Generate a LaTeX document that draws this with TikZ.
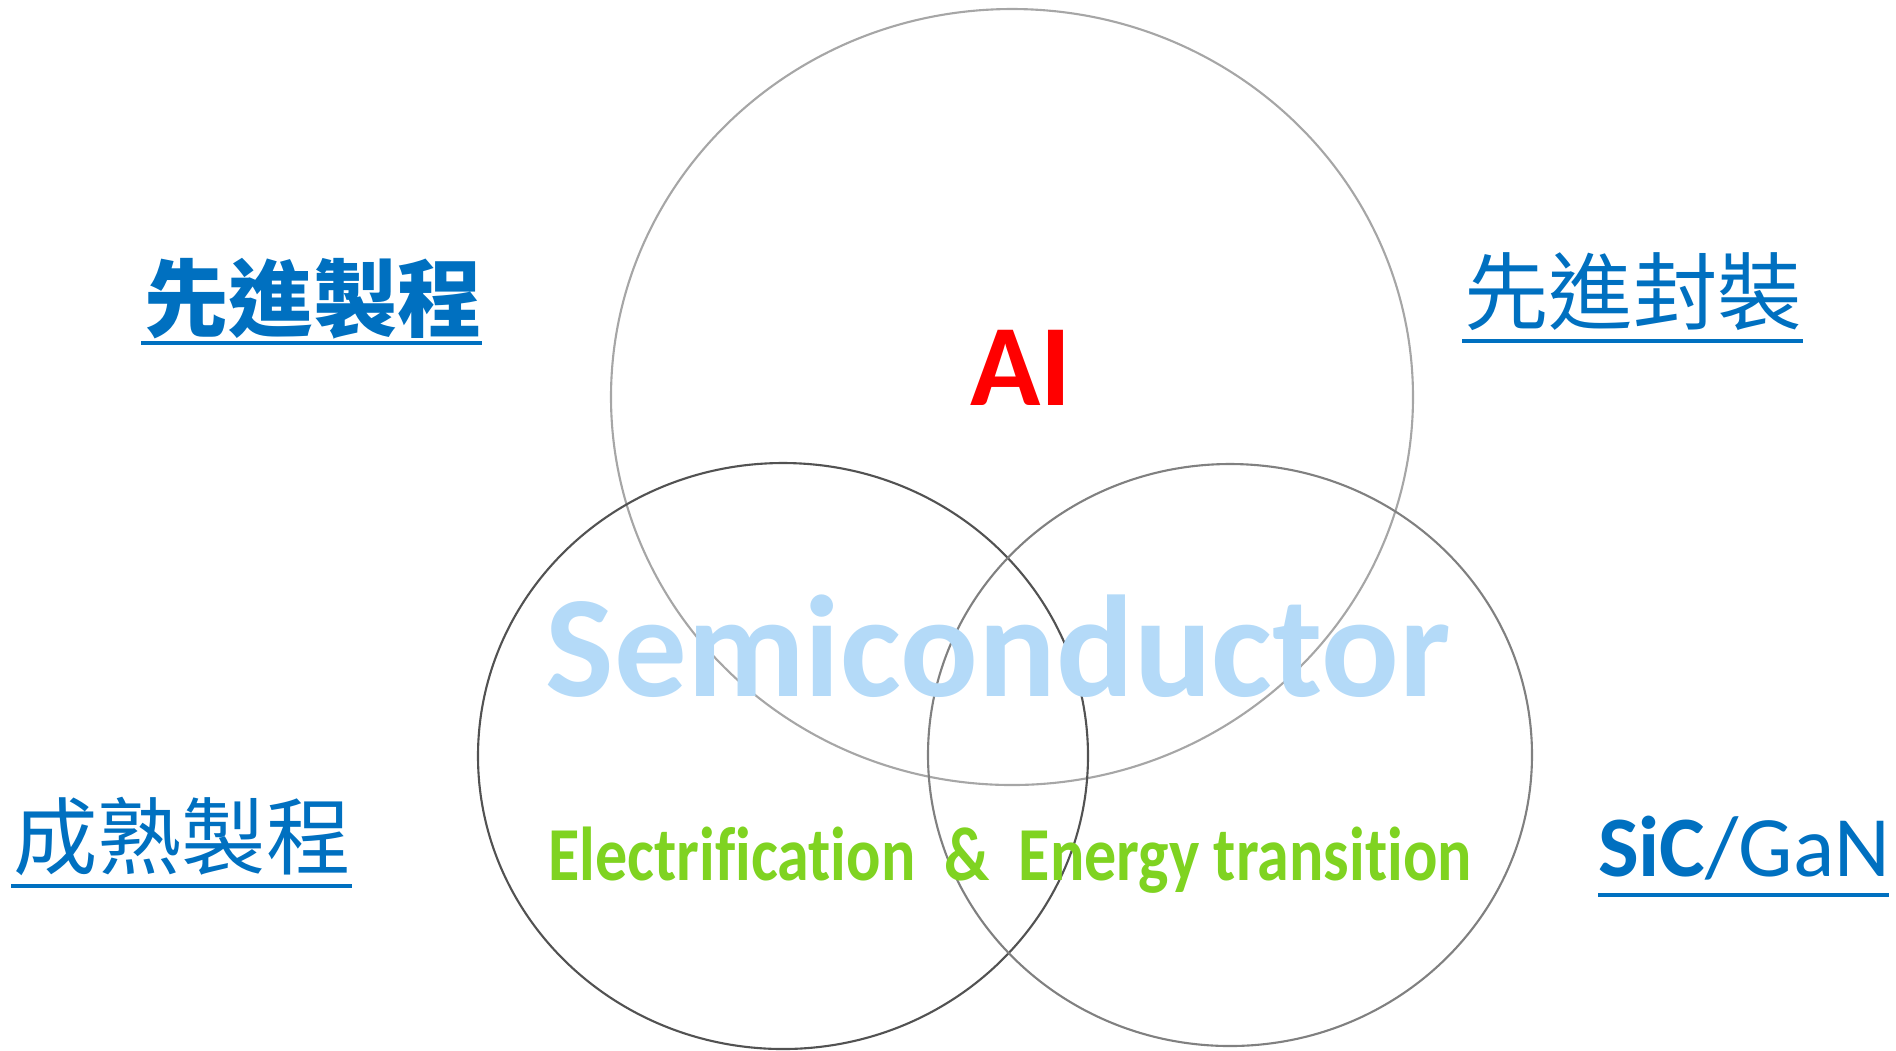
\documentclass[tikz,border=0pt]{standalone}
\usepackage{fontspec}
\setmainfont{Carlito}[Ligatures=NoCommon]
\newfontfamily\narrowfont{Carlito}[FakeStretch=0.84, Ligatures=NoCommon]
\newfontfamily\cjk{Noto Sans CJK TC}
\usetikzlibrary{positioning,calc}

\definecolor{labelblue}{HTML}{0070C0}
\definecolor{semiblue}{RGB}{180,218,248}
\definecolor{energygreen}{RGB}{127,211,33}

\begin{document}
\begin{tikzpicture}[
  x=0.01cm, y=-0.01cm,
  ring/.style={line width=0.6pt},
  topic/.style={inner sep=0pt, text=labelblue},
  uline/.style={labelblue, line width=1.2pt},
  every node/.style={font=\bfseries}
]
  \useasboundingbox (0,0) rectangle (1896,1050);

  % --- three overlapping circles ---
  \draw[ring, black!35] (1012,397) ellipse (401 and 388);
  \draw[ring, black!68] (783,756) ellipse (305 and 293);
  \draw[ring, black!50] (1230,755) ellipse (302 and 291);

  % --- texts inside the circles ---
  \node[text=semiblue, font=\bfseries\fontsize{41.2}{42}\selectfont, anchor=base]
    (semi) at (998,696) {Semiconductor};
  \node[text=red, font=\bfseries\fontsize{33}{33}\selectfont, anchor=base]
    (ai) at (1021,405) {AI};
  \node[text=energygreen, font=\narrowfont\bfseries\fontsize{21.7}{22}\selectfont, anchor=base]
    (energy) at (1010,880) {Electrification\ \ \&\ \ Energy transition};

  % --- topics round the diagram ---
  \node[topic, font=\cjk\bfseries\fontsize{24}{24}\selectfont] (advproc) at (313,299) {先進製程};
  \node[topic, font=\cjk\fontsize{24}{24}\selectfont] (advpack) at (1633,292) {先進封裝};
  \node[topic, font=\cjk\fontsize{24}{24}\selectfont] (matproc) at (182,836) {成熟製程};
  \node[topic, font=\fontsize{24.5}{25}\selectfont, anchor=base] (sicgan) at (1744,876)
    {\textbf{SiC}\mdseries/GaN};

  % underlines
  \draw[uline] (141,343) -- (482,343);
  \draw[uline] (1462,341) -- (1803,341);
  \draw[uline] (11,886) -- (352,886);
  \draw[uline] (1598,895) -- (1889,895);

\end{tikzpicture}
\end{document}
